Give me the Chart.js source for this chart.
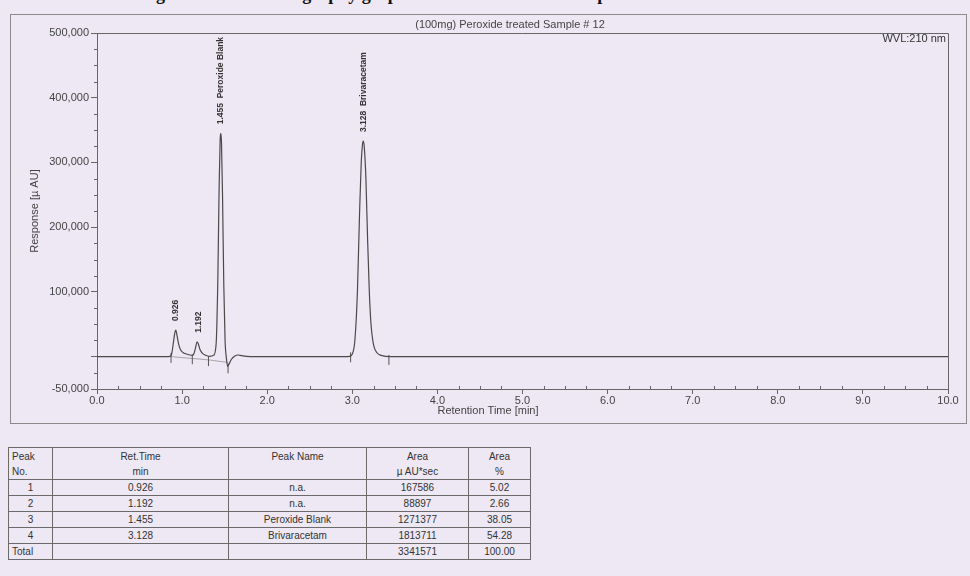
<!DOCTYPE html>
<html>
<head>
<meta charset="utf-8">
<script src="https://cdn.jsdelivr.net/npm/chart.js@4.4.1/dist/chart.umd.min.js"></script>
<style>
  html, body { margin: 0; padding: 0; }
  body { width: 970px; height: 576px; background: #ede8f4; position: relative; overflow: hidden;
         font-family: 'Liberation Sans', Arial, sans-serif; color: #3a3a3a; }
  #caption { position: absolute; left: 140px; top: -15px; font: bold 18px 'Liberation Serif', 'Times New Roman', serif;
             color: #111; white-space: nowrap; line-height: 18px; }
  #frame { position: absolute; left: 10px; top: 14px; width: 955px; height: 408px; border: 1px solid #8a8a8a; }
  #chart { position: absolute; left: 0; top: 0; }
  #peakTable { position: absolute; left: 8px; top: 447px; border-collapse: collapse; font-size: 10px; color: #333; }
  #peakTable td { border: 1px solid #6a6a6a; height: 15px; padding: 0 3px; text-align: center; line-height: 15px; }
  #peakTable tr.head td { height: 31px; line-height: 15px; }
  #peakTable td.first { text-align: left; }
</style>
</head>
<body>
<div id="caption">Figure 12: Chromatography graph of Peroxide treated Sample</div>
<div id="frame"></div>
<canvas id="chart" width="970" height="430"></canvas>
<table id="peakTable"></table>

<script>
// ── Chromatogram trace ───────────────────────────────────────────────────────
const times = [0.00, 0.40, 0.80, 0.86, 0.88, 0.90, 0.915, 0.926, 0.94, 0.96, 0.98, 1.01, 1.05, 1.09,
  1.12, 1.14, 1.16, 1.175, 1.19, 1.21, 1.24, 1.27, 1.30, 1.33, 1.37, 1.40, 1.42, 1.435, 1.447, 1.455,
  1.463, 1.475, 1.49, 1.505, 1.52, 1.535, 1.55, 1.58, 1.62, 1.66, 1.70, 1.76, 1.85, 2.20, 2.60, 2.90,
  2.97, 3.00, 3.03, 3.06, 3.085, 3.105, 3.12, 3.128, 3.14, 3.16, 3.18, 3.20, 3.22, 3.25, 3.29, 3.34,
  3.45, 4.50, 6.00, 8.00, 10.00];
const response = [0, 0, 0, 500, 6000, 24000, 37000, 41000, 33000, 19000, 11000, 6500, 4000, 2500,
  2000, 5000, 15000, 23000, 20000, 11000, 5000, 2500, 1000, 500, 2000, 20000, 120000, 260000, 335000, 345000,
  330000, 250000, 110000, 25000, -2000, -15000, -12000, -4000, 1000, 2500, 1500, 500, 0, 0, 0, 0,
  500, 4000, 25000, 100000, 220000, 300000, 328000, 333000, 325000, 275000, 180000, 100000, 50000, 18000, 6000, 2000,
  0, 0, 0, 0, 0];

// integration baseline and peak delimiter marks
const baseTimes = [0.87, 1.31, 1.54];
const baseValues = [0, -5000, -9000];
const markTimes = [0.87, 1.12, 1.31, 1.54, 2.98, 3.43];
const markValues = [-2000, -4000, -7000, -18000, -1000, -5000];

// ── Peak table ────────────────────────────────────────────────────────────────
const peakNo = ['1', '2', '3', '4'];
const retTimes = [0.926, 1.192, 1.455, 3.128];
const peakNames = ['n.a.', 'n.a.', 'Peroxide Blank', 'Brivaracetam'];
const peakHeights = [41000, 23000, 345000, 333000];
const peakLabels = ['0.926', '1.192', '1.455  Peroxide Blank', '3.128  Brivaracetam'];
const areas = ['167586', '88897', '1271377', '1813711'];
const areaPct = ['5.02', '2.66', '38.05', '54.28'];
const totalArea = '3341571';
const totalPct = '100.00';

// ── Axes ─────────────────────────────────────────────────────────────────────
const yTicks = [-50000, 0, 100000, 200000, 300000, 400000, 500000];
const xMinorStep = 0.25;
const yMinorStep = 25000;

const FONT = "'Liberation Sans', Arial, sans-serif";
const AXIS = '#666666';
const TEXT = '#444444';

function buildTable() {
  const t = document.getElementById('peakTable');
  const widths = [44, 176, 138, 102, 62];
  let html = '<colgroup>' + widths.map(w => `<col style="width:${w}px">`).join('') + '</colgroup>';
  html += `<tr class="head"><td class="first">Peak<br>No.</td><td>Ret.Time<br>min</td><td>Peak Name<br>&nbsp;</td>
           <td>Area<br>µ AU*sec</td><td>Area<br>%</td></tr>`;
  peakNo.forEach((n, i) => {
    html += `<tr><td>${n}</td><td>${retTimes[i].toFixed(3)}</td><td>${peakNames[i]}</td><td>${areas[i]}</td><td>${areaPct[i]}</td></tr>`;
  });
  html += `<tr><td class="first">Total</td><td></td><td></td><td>${totalArea}</td><td>${totalPct}</td></tr>`;
  t.innerHTML = html;
}
buildTable();

// box, minor ticks, peak labels and header texts
const decorPlugin = {
  id: 'decor',
  afterDraw(chart) {
    const { ctx, chartArea: a, scales: { x, y } } = chart;
    ctx.save();
    ctx.strokeStyle = AXIS;
    ctx.lineWidth = 1;
    ctx.beginPath();
    ctx.moveTo(a.left, a.top + 0.5); ctx.lineTo(a.right + 0.5, a.top + 0.5); ctx.lineTo(a.right + 0.5, a.bottom);
    ctx.stroke();

    // minor ticks
    ctx.beginPath();
    for (let v = x.min; v <= x.max + 1e-9; v += xMinorStep) {
      if (Math.abs(v - Math.round(v)) < 1e-6) continue;
      const px = Math.round(x.getPixelForValue(v)) + 0.5;
      ctx.moveTo(px, a.bottom - 3); ctx.lineTo(px, a.bottom);
    }
    for (let v = y.min; v <= y.max; v += yMinorStep) {
      if (yTicks.includes(v)) continue;
      const py = Math.round(y.getPixelForValue(v)) + 0.5;
      ctx.moveTo(a.left - 3, py); ctx.lineTo(a.left, py);
    }
    ctx.stroke();

    // peak labels
    ctx.fillStyle = '#333';
    ctx.font = `bold 8.5px ${FONT}`;
    ctx.textAlign = 'left';
    ctx.textBaseline = 'middle';
    retTimes.forEach((t, i) => {
      const px = x.getPixelForValue(t);
      const py = y.getPixelForValue(peakHeights[i]) - 9;
      ctx.save();
      ctx.translate(px, py);
      ctx.rotate(-Math.PI / 2);
      ctx.fillText(peakLabels[i], 0, 0);
      ctx.restore();
    });

    ctx.fillStyle = TEXT;
    ctx.font = `11px ${FONT}`;
    ctx.textAlign = 'center';
    ctx.fillText('(100mg) Peroxide treated Sample # 12', 510, 25);
    ctx.fillText('Retention Time [min]', 488, 411);
    ctx.textAlign = 'right';
    ctx.fillStyle = '#333';
    ctx.fillText('WVL:210 nm', a.right - 2, 39);
    ctx.restore();
  }
};

new Chart(document.getElementById('chart'), {
  type: 'line',
  data: {
    datasets: [
      {
        label: 'trace',
        data: times.map((t, i) => ({ x: t, y: response[i] })),
        borderColor: '#4a4a4a',
        borderWidth: 1.2,
        pointRadius: 0,
        cubicInterpolationMode: 'monotone',
      },
      {
        label: 'baseline',
        data: baseTimes.map((t, i) => ({ x: t, y: baseValues[i] })),
        borderColor: 'rgba(90,90,90,0.6)',
        borderWidth: 0.8,
        pointRadius: 0,
      },
      {
        label: 'marks',
        data: markTimes.map((t, i) => ({ x: t, y: markValues[i] })),
        showLine: false,
        pointStyle: 'line',
        rotation: 90,
        pointRadius: 5,
        borderColor: '#555',
        borderWidth: 1,
      },
    ],
  },
  options: {
    responsive: false,
    animation: false,
    devicePixelRatio: 1,
    layout: { padding: { left: 0, right: 22, top: 33, bottom: 0 } },
    plugins: { legend: { display: false }, tooltip: { enabled: false }, title: { display: false } },
    scales: {
      x: {
        type: 'linear',
        min: 0,
        max: 10,
        afterFit: s => { s.height = 41; },
        ticks: { stepSize: 1, color: TEXT, font: { family: FONT, size: 11 }, padding: 0, maxRotation: 0,
                 callback: v => Number(v).toFixed(1) },
        grid: { drawOnChartArea: false, drawTicks: true, tickLength: 5, color: AXIS },
        border: { display: true, color: AXIS },
      },
      y: {
        min: -50000,
        max: 500000,
        afterFit: s => { s.width = 97; },
        afterBuildTicks: s => { s.ticks = yTicks.map(v => ({ value: v })); },
        ticks: { color: TEXT, font: { family: FONT, size: 11 }, padding: 2,
                 callback: v => (v === 0 ? '' : v.toLocaleString('en-US')) },
        grid: { drawOnChartArea: false, drawTicks: true, tickLength: 6, color: AXIS },
        border: { display: true, color: AXIS },
        title: { display: true, text: 'Response [µ AU]', color: TEXT, font: { family: FONT, size: 11 },
                 padding: { top: 28 } },
      },
    },
  },
  plugins: [decorPlugin],
});
</script>
</body>
</html>
